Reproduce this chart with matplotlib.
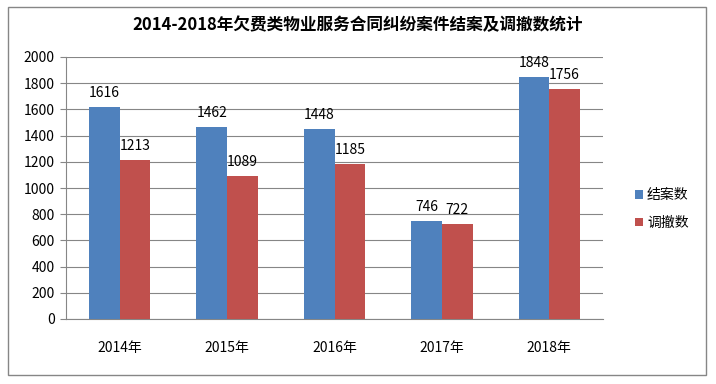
import matplotlib
matplotlib.use('Agg')
import matplotlib.pyplot as plt
import numpy as np
from matplotlib.patches import Rectangle

plt.rcParams['font.family'] = ['Noto Sans CJK SC', 'DejaVu Sans']

# data
years = ['2014年', '2015年', '2016年', '2017年', '2018年']
closed = [1616, 1462, 1448, 746, 1848]
withdrawn = [1213, 1089, 1185, 722, 1756]
series_names = ['结案数', '调撤数']

BLUE = '#4f81bd'
RED = '#c0504d'

fig = plt.figure(figsize=(7.16, 3.84), dpi=100)
fig.patch.set_facecolor('white')
# outer chart border
fig.patches.append(Rectangle((8 / 716, 1 - 375 / 384), 698 / 716, 368 / 384,
                             transform=fig.transFigure, fill=False,
                             edgecolor='#868686', linewidth=1))

ax = fig.add_axes([66 / 716, 1 - 319 / 384, 537 / 716, 262 / 384])
x = np.arange(len(years))
w = 0.285
b1 = ax.bar(x - w / 2, closed, w, color=BLUE, label=series_names[0], zorder=3)
b2 = ax.bar(x + w / 2, withdrawn, w, color=RED, label=series_names[1], zorder=3)

for bars, vals in ((b1, closed), (b2, withdrawn)):
    for r, v in zip(bars, vals):
        ax.text(r.get_x() + r.get_width() / 2, v + 55, str(v),
                ha='center', va='bottom', fontsize=10, color='black')

ax.set_xlim(-0.5, len(years) - 0.5)
ax.set_ylim(0, 2000)
ax.set_yticks(range(0, 2001, 200))
ax.set_xticks(x)
ax.set_xticklabels(years, fontsize=10)
ax.tick_params(axis='y', labelsize=10, length=4, color='#868686', pad=4)
ax.tick_params(axis='x', length=0, pad=16)
ax.grid(axis='y', color='#868686', linewidth=0.8, zorder=0)
for s in ['top', 'right']:
    ax.spines[s].set_visible(False)
for s in ['left', 'bottom']:
    ax.spines[s].set_color('#868686')

fig.text(0.5, 1 - 25 / 384, '2014-2018年欠费类物业服务合同纠纷案件结案及调撤数统计',
         ha='center', va='center', fontsize=12, fontweight='bold')

leg = fig.legend(handles=[b1, b2], loc='center left',
                 bbox_to_anchor=(622 / 716, 1 - 209 / 384), frameon=False,
                 fontsize=10, handlelength=0.6, handleheight=0.6,
                 handletextpad=0.3, labelspacing=1.0)

fig.savefig('out.png', dpi=100)
